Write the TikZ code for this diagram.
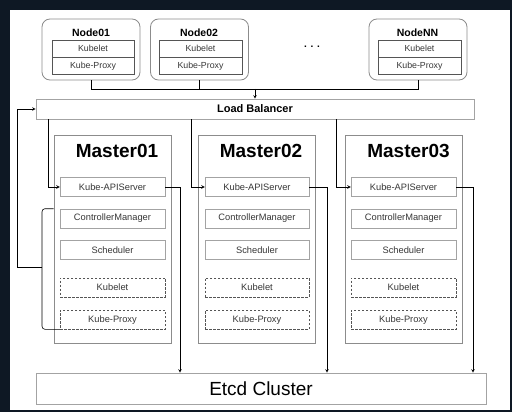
\documentclass[tikz,border=0pt]{standalone}
\usepackage{fontspec}
\setmainfont{Liberation Sans}
\usetikzlibrary{arrows, positioning}
\definecolor{nightblue}{RGB}{14,24,36}
\definecolor{boxgray}{RGB}{140,140,140}
\definecolor{partgray}{RGB}{85,85,85}
\definecolor{txtgray}{RGB}{55,55,55}
\tikzstyle{worker} = [rectangle, rounded corners=8pt, minimum width=98pt, minimum height=61pt, draw=boxgray, line width=0.8pt]
\tikzstyle{wtitle} = [inner sep=0pt, font=\bfseries\fontsize{10.5}{12}\selectfont]
\tikzstyle{wpart} = [rectangle, inner sep=0pt, minimum width=82pt, minimum height=17pt, draw=partgray, text=txtgray, font=\fontsize{8.8}{10}\selectfont]
\tikzstyle{master} = [rectangle, minimum width=117pt, minimum height=208pt, draw=boxgray, line width=0.7pt]
\tikzstyle{mtitle} = [inner sep=0pt, font=\bfseries\fontsize{19}{22}\selectfont]
\tikzstyle{mpart} = [rectangle, inner sep=0pt, minimum width=105pt, minimum height=19pt, draw=boxgray!80, text=txtgray, font=\fontsize{9.3}{11}\selectfont]
\tikzstyle{mdash} = [mpart, draw=partgray, dash pattern=on 2.5pt off 1.5pt]
\tikzstyle{banner} = [rectangle, inner sep=0pt, draw=boxgray!80, line width=0.6pt]
\tikzstyle{arrow} = [semithick,->,>=stealth]
\tikzstyle{line} = [semithick,-]

\begin{document}
\begin{tikzpicture}[x=1pt, y=-1pt]
\useasboundingbox (0,0) rectangle (512,412);
\fill[nightblue] (0,0) rectangle (512,412);
\fill[white] (10,10) rectangle (510,410);

% Worker nodes
\node (n1) [worker] at (91,49.5) {};
\node (n1t) [wtitle] at (91,33) {Node01};
\node (n1k) [wpart] at (93,48.5) {Kubelet};
\node (n1p) [wpart, below=0pt of n1k] {Kube-Proxy};

\node (n2) [worker] at (199.5,49.5) {};
\node (n2t) [wtitle] at (199,33) {Node02};
\node (n2k) [wpart, minimum width=83pt] at (200.5,48.5) {Kubelet};
\node (n2p) [wpart, minimum width=83pt, below=0pt of n2k] {Kube-Proxy};

\node (dots) [font=\bfseries] at (312,47) {. . .};

\node (nn) [worker] at (418,49.5) {};
\node (nnt) [wtitle] at (417.5,33) {NodeNN};
\node (nnk) [wpart, minimum width=83pt] at (419.5,48.5) {Kubelet};
\node (nnp) [wpart, minimum width=83pt, below=0pt of nnk] {Kube-Proxy};

% Load balancer and etcd
\node (lb) [banner, minimum width=438pt, minimum height=20pt, font=\bfseries\fontsize{11}{13}\selectfont] at (255,109) {Load Balancer};
\node (etcd) [banner, minimum width=450pt, minimum height=31pt, font=\fontsize{19}{22}\selectfont] at (261,388.5) {Etcd Cluster};

% Masters
\node (m1) [master] at (112.5,239) {};
\node (m1t) [mtitle] at (117,151) {Master01};
\node (m1api) [mpart] at (112.5,187) {Kube-APIServer};
\node (m1cm) [mpart, below=12pt of m1api] {ControllerManager};
\node (m1sch) [mpart, below=12pt of m1cm] {Scheduler};
\node (m1kl) [mdash, below=18pt of m1sch] {Kubelet};
\node (m1kp) [mdash, below=13pt of m1kl] {Kube-Proxy};

\node (m2) [master] at (257,239) {};
\node (m2t) [mtitle] at (261,151) {Master02};
\node (m2api) [mpart, minimum width=104pt] at (257,187) {Kube-APIServer};
\node (m2cm) [mpart, minimum width=104pt, below=12pt of m2api] {ControllerManager};
\node (m2sch) [mpart, minimum width=104pt, below=12pt of m2cm] {Scheduler};
\node (m2kl) [mdash, minimum width=104pt, below=18pt of m2sch] {Kubelet};
\node (m2kp) [mdash, minimum width=104pt, below=13pt of m2kl] {Kube-Proxy};

\node (m3) [master] at (404,239) {};
\node (m3t) [mtitle] at (408.5,151) {Master03};
\node (m3api) [mpart] at (403.5,187) {Kube-APIServer};
\node (m3cm) [mpart, below=12pt of m3api] {ControllerManager};
\node (m3sch) [mpart, below=12pt of m3cm] {Scheduler};
\node (m3kl) [mdash, below=18pt of m3sch] {Kubelet};
\node (m3kp) [mdash, below=13pt of m3kl] {Kube-Proxy};

% Helper points
\coordinate (join) at (255,89);
\coordinate (d1) at (48,0);
\coordinate (d2) at (191,0);
\coordinate (d3) at (336,0);
\coordinate (e1) at (180,0);
\coordinate (e2) at (327,0);
\coordinate (e3) at (473,0);
\coordinate (brace) at (42,267);
\coordinate (loop) at (17,267);

% Workers to load balancer
\draw[line] (n1.south) |- (join);
\draw[line] (n2.south) |- (join);
\draw[line] (nn.south) |- (join);
\draw[arrow] (join) -- (lb.north -| join);

% Load balancer to API servers
\draw[arrow] (lb.south -| d1) |- (m1api.west);
\draw[arrow] (lb.south -| d2) |- (m2api.west);
\draw[arrow] (lb.south -| d3) |- (m3api.west);

% API servers to etcd
\draw[arrow] (m1api.east) -| (etcd.north -| e1);
\draw[arrow] (m2api.east) -| (etcd.north -| e2);
\draw[arrow] (m3api.east) -| (etcd.north -| e3);

% Master components back to load balancer
\draw[line, rounded corners=3pt] (m1.west |- m1cm.north) -| (brace) |- (m1kp.south west);
\draw[arrow] (brace) -- (loop) |- (lb.west);

\end{tikzpicture}
\end{document}
